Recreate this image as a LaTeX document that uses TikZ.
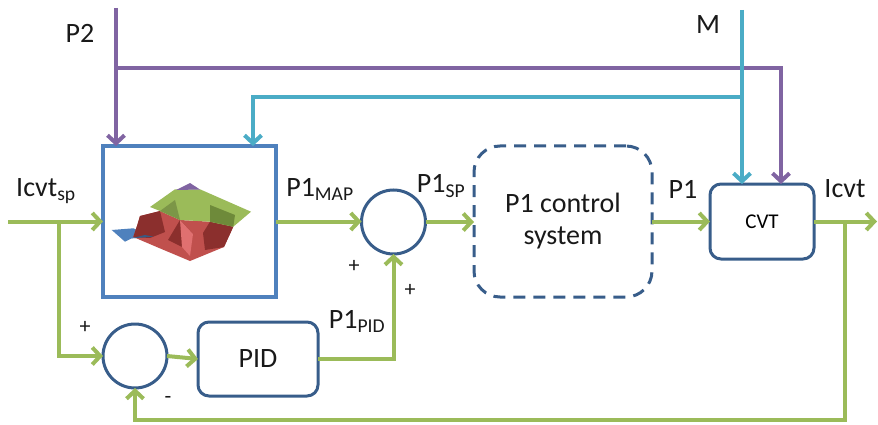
\documentclass[tikz,border=0pt]{standalone}
\usepackage{fontspec}
\setmainfont{Carlito}
\usetikzlibrary{arrows.meta}
\definecolor{lgreen}{HTML}{9BBB59}
\definecolor{lpurple}{HTML}{8064A2}
\definecolor{lcyan}{HTML}{4BACC6}
\definecolor{dblue}{HTML}{385D8A}
\definecolor{mblue}{HTML}{4F81BD}
\definecolor{mred}{HTML}{C0504D}
\definecolor{dred}{HTML}{8B2F2D}
\definecolor{pred}{HTML}{E07070}
\definecolor{mgreen}{HTML}{9BBB59}
\definecolor{dgreen}{HTML}{6E8A3A}
\definecolor{mpurple}{HTML}{8064A2}
\definecolor{bblue}{HTML}{4F81BD}
\tikzset{
  conn/.style={line width=4pt, -{Straight Barb[length=8pt,width=17pt,line width=4pt]}},
  gline/.style={conn, draw=lgreen},
  pline/.style={conn, draw=lpurple},
  cline/.style={conn, draw=lcyan},
  sumnode/.style={circle, draw=dblue, line width=3pt, minimum size=64pt, inner sep=0pt, outer sep=0pt},
  blockbox/.style={rectangle, rounded corners=11pt, draw=dblue, line width=3pt, inner sep=0pt, outer sep=0pt},
  mapbox/.style={rectangle, draw=mblue, line width=3.5pt, inner sep=0pt, outer sep=0pt, minimum width=173pt, minimum height=151pt},
  lbl/.style={text=black!90, font=\fontsize{28}{32}\selectfont, inner sep=0pt},
  sgn/.style={text=black!90, font=\fontsize{22}{24}\selectfont, inner sep=0pt}
}
\begin{document}
\begin{tikzpicture}[x=1pt,y=-1pt]
\useasboundingbox (0,0) rectangle (878,425);
% blocks
\node[mapbox] (map) at (189.5,221.5) {};
\node[sumnode] (sum2) at (393.5,222) {};
\node[blockbox, rounded corners=26pt, dashed, dash pattern=on 12pt off 8pt, minimum width=178pt, minimum height=151pt, align=center, lbl] (ctrl) at (563,221.5) {P1 control\\system};
\node[blockbox, minimum width=104pt, minimum height=75pt, font=\fontsize{21}{24}\selectfont] (cvt) at (762,221.5) {CVT};
\node[sumnode] (sum1) at (135,356) {};
\node[blockbox, minimum width=120pt, minimum height=74pt, lbl] (pid) at (258,359) {PID};
% 3D map surface
\begin{scope}
\fill[bblue] (111.7,230) -- (133.3,228.3) -- (153.3,236.7) -- (131.7,238.3) -- (125,241.7) -- cycle;
\fill[mred] (140,216) -- (160,211) -- (180,220) -- (210,221.7) -- (233.3,226.7) -- (224,247) -- (190,261) -- (156.7,247) -- (133.3,237) -- (137,226) -- cycle;
\fill[dred] (140,216) -- (160,211) -- (165,232) -- (150,238) -- (133.3,237) -- (137,226) -- cycle;
\fill[dred] (180,220) -- (193,234) -- (184,248) -- (168,240) -- cycle;
\fill[dred] (210,221.7) -- (233.3,226.7) -- (224,247) -- (205,250) -- (203,233) -- cycle;
\fill[pred] (180,220) -- (193,234) -- (190,256) -- (182,247) -- cycle;
\fill[bblue!70!black] (131.7,238.3) -- (145,235) -- (153.3,236.7) -- cycle;
\fill[mgreen] (175,189.3) -- (200,189.3) -- (251,211.7) -- (233.3,226.7) -- (210,221.7) -- (180,220) -- (160,211) -- (150,207) -- cycle;
\fill[dgreen] (210,205) -- (235,215) -- (233.3,226.7) -- (210,221.7) -- cycle;
\fill[mgreen!80!black] (160,211) -- (175,200) -- (180,220) -- cycle;
\fill[mpurple] (176,190) -- (190,183) -- (200,189.5) -- cycle;
\end{scope}
% top signals
\coordinate (p2top) at (116,8);
\coordinate (p2j) at (116,68);
\coordinate (mtop) at (742,10);
\coordinate (mj) at (742,97);
\draw[pline] (p2top) -- (p2top |- map.north);
\draw[pline] (p2j) -| ([xshift=19pt]cvt.north);
\draw[cline] (mtop) -- ([xshift=-20pt]cvt.north);
\draw[cline] (mj) -| ([xshift=63.5pt]map.north);
% main path
\coordinate (in) at (8,221.5);
\coordinate (b1) at (59,221.5);
\coordinate (out) at (877,221.5);
\coordinate (b2) at (845,221.5);
\coordinate (fb) at (845,420);
\draw[gline] (in) -- (map.west);
\draw[gline] (b1) |- (sum1.west);
\draw[gline] (map.east) -- (map.east -| sum2.west);
\draw[gline] (sum2.east) -- (sum2.east -| ctrl.west);
\draw[gline] (ctrl.east) -- (cvt.west);
\draw[gline] (cvt.east) -- (out);
\draw[gline] (b2) -- (fb) -| (sum1.south);
\draw[gline] (sum1.east) -- (pid.west);
\draw[gline] (pid.east) -| (sum2.south);
% labels
\node[lbl] (lp2) at (80,33) {P2};
\node[lbl] (lm) at (708,25) {M};
\node[lbl] (lin) at (46,191) {Icvt\textsubscript{sp}};
\node[lbl] (lmap) at (320,189) {P1\textsubscript{MAP}};
\node[lbl] (lsp) at (441,186) {P1\textsubscript{SP}};
\node[lbl] (lp1) at (683,189) {P1};
\node[lbl] (lout) at (845,189) {Icvt};
\node[lbl] (lpid) at (357,321) {P1\textsubscript{PID}};
\node[sgn] (s1) at (354,266) {+};
\node[sgn] (s2) at (410,290) {+};
\node[sgn] (s3) at (85,327) {+};
\node[sgn] (s4) at (168,400) {-};
\end{tikzpicture}
\end{document}
